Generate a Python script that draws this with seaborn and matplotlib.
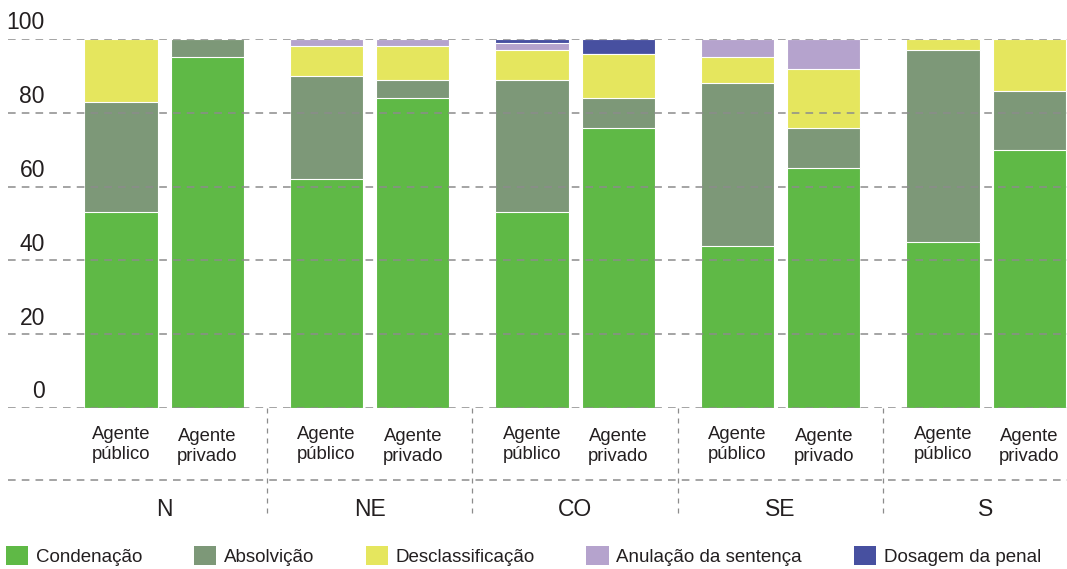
import matplotlib.pyplot as plt
import numpy as np
import pandas as pd
import seaborn as sns
from matplotlib.patches import Patch

sns.set_style('white')
plt.rcParams['font.family'] = ['Liberation Sans', 'DejaVu Sans']

regions = ['N', 'NE', 'CO', 'SE', 'S']
agents = ['Agente\npúblico', 'Agente\nprivado']
categories = ['Condenação', 'Absolvição', 'Desclassificação',
              'Anulação da sentença', 'Dosagem da penal']
colors = ['#5fb946', '#7d9878', '#e5e65e', '#b5a3cd', '#4750a0']

# percentages, order: N pub, N priv, NE pub, NE priv, ...
condenacao = [53, 95, 62, 84, 53, 76, 44, 65, 45, 70]
absolvicao = [30, 5, 28, 5, 36, 8, 44, 11, 52, 16]
desclassificacao = [17, 0, 8, 9, 8, 12, 7, 16, 3, 14]
anulacao = [0, 0, 2, 2, 2, 0, 5, 8, 0, 0]
dosagem = [0, 0, 0, 0, 1, 4, 0, 0, 0, 0]

yticks = [0, 20, 40, 60, 80, 100]

stack = np.array([condenacao, absolvicao, desclassificacao, anulacao, dosagem])
cum = np.cumsum(stack, axis=0)

df = pd.DataFrame({'region': np.repeat(regions, 2), 'agent': agents * len(regions)})
for k in range(len(categories)):
    df[f'cum{k}'] = cum[k]

W, H = 1067, 569
fig = plt.figure(figsize=(W / 100, H / 100), dpi=100)
ax = fig.add_axes([8 / W, 1 - 408 / H, 1059 / W, 369 / H])

# draw cumulative layers from the top down so each segment shows
for k in reversed(range(len(categories))):
    sns.barplot(data=df, x='region', y=f'cum{k}', hue='agent', order=regions,
                hue_order=agents, palette=[colors[k]] * 2, saturation=1,
                width=0.84, gap=0.15, errorbar=None, edgecolor='white',
                linewidth=0.8, legend=False, ax=ax)

ax.set_xlim(-0.76, 4.394)
ax.set_ylim(0, 100)
ax.set_xticks([])
ax.set_yticks([])
ax.set_xlabel('')
ax.set_ylabel('')
for s in ax.spines.values():
    s.set_visible(False)

txt = '#231f20'
grid_kw = dict(color='#8c8c8c', ls=(0, (5, 4)), lw=1.1)
for v in yticks:
    ax.axhline(v, zorder=5, **grid_kw)
    ax.text(37 / 1059, v + 2.6, str(v), transform=ax.get_yaxis_transform(),
            ha='right', va='baseline', fontsize=16.5, color=txt)

# category labels below the bars
xt = ax.get_xaxis_transform()
for i, r in enumerate(regions):
    for j, a in enumerate(agents):
        off = -0.21 if j == 0 else 0.21
        ax.text(i + off, -0.098 - 0.006 * j, a, transform=xt, ha='center', va='center',
                fontsize=13.3, color=txt, linespacing=1.25)
    ax.text(i, -0.276, r, transform=xt, ha='center', va='center', fontsize=16.5, color=txt)

ax.plot([-0.76, 4.394], [-0.195, -0.195], transform=xt, clip_on=False, **grid_kw)
for i in range(len(regions) - 1):
    ax.plot([i + 0.5, i + 0.5], [0, -0.295], transform=xt, clip_on=False,
            color='#8c8c8c', ls=(0, (4, 4)), lw=0.9)

handles = [Patch(facecolor=c, edgecolor='none') for c in colors]
fig.legend(handles, categories, loc='center left', bbox_to_anchor=(0.0, 1 - 556 / H),
           ncol=5, frameon=False, fontsize=13.5, handlelength=1.2, handleheight=1.2,
           handletextpad=0.4, columnspacing=2.75, borderpad=0.3, borderaxespad=0,
           labelcolor=txt)

fig.savefig('out.png', dpi=100)
